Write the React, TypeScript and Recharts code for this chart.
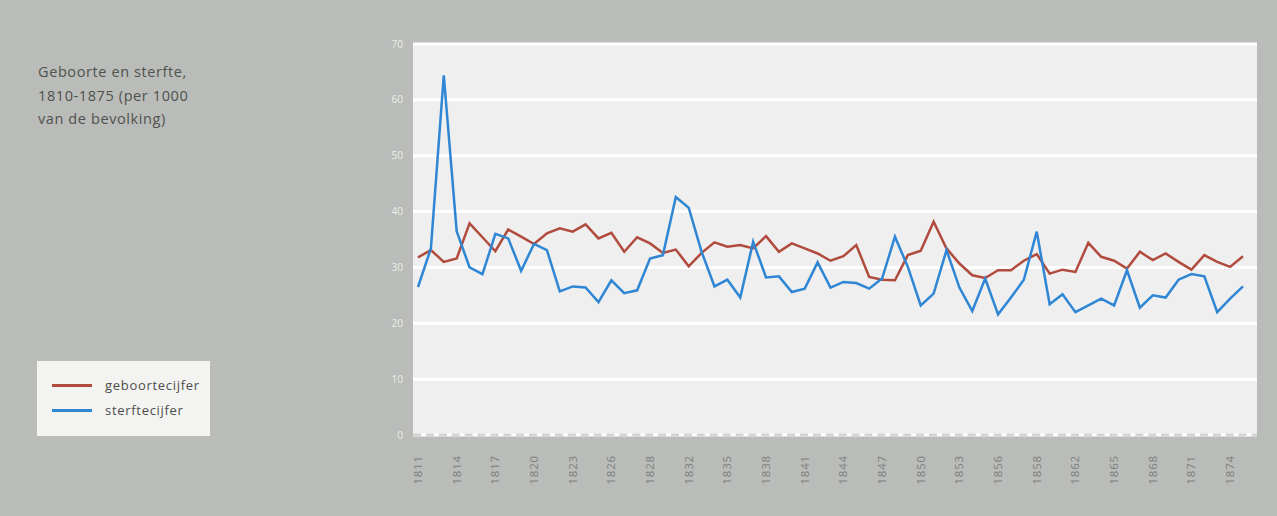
import React from 'react';
import { LineChart, Line, XAxis, YAxis, CartesianGrid } from 'recharts';

const years = [
  1811, 1812, 1813, 1814, 1815, 1816, 1817, 1818, 1819, 1820,
  1821, 1822, 1823, 1824, 1825, 1826, 1827, 1828, 1829, 1830,
  1831, 1832, 1833, 1834, 1835, 1836, 1837, 1838, 1839, 1840,
  1841, 1842, 1843, 1844, 1845, 1846, 1847, 1848, 1849, 1850,
  1851, 1852, 1853, 1854, 1855, 1856, 1857, 1858, 1859, 1860,
  1861, 1862, 1863, 1864, 1865, 1866, 1867, 1868, 1869, 1870,
  1871, 1872, 1873, 1874, 1875,
];

const geboortecijfer = [
  31.8, 33.1, 31.0, 31.6, 37.9, 35.4, 32.9, 36.8, 35.5, 34.2,
  36.1, 37.0, 36.4, 37.7, 35.2, 36.2, 32.8, 35.4, 34.3, 32.6,
  33.2, 30.2, 32.6, 34.5, 33.7, 34.0, 33.4, 35.6, 32.8, 34.3,
  33.4, 32.5, 31.2, 32.0, 34.0, 28.3, 27.8, 27.7, 32.2, 33.0,
  38.2, 33.4, 30.7, 28.6, 28.1, 29.5, 29.5, 31.2, 32.4, 28.9,
  29.6, 29.2, 34.4, 31.9, 31.2, 29.8, 32.8, 31.3, 32.5, 31.0,
  29.6, 32.2, 31.0, 30.1, 32.0,
];

const sterftecijfer = [
  26.5, 33.4, 64.4, 36.5, 30.0, 28.8, 36.0, 35.2, 29.4, 34.2,
  33.1, 25.7, 26.6, 26.4, 23.8, 27.7, 25.4, 25.9, 31.6, 32.2,
  42.6, 40.7, 32.8, 26.6, 27.8, 24.6, 34.6, 28.2, 28.4, 25.6,
  26.2, 30.9, 26.4, 27.4, 27.2, 26.2, 28.0, 35.5, 30.1, 23.2,
  25.3, 33.1, 26.4, 22.2, 28.0, 21.6, 24.6, 27.8, 36.4, 23.4,
  25.2, 22.0, 23.2, 24.4, 23.2, 29.5, 22.8, 25.0, 24.6, 27.8,
  28.8, 28.4, 22.0, 24.4, 26.6,
];

const tickYears = [
  1811, 1814, 1817, 1820, 1823, 1826, 1829, 1832, 1835, 1838, 1841,
  1844, 1847, 1850, 1853, 1856, 1859, 1862, 1865, 1868, 1871, 1874,
];
const tickLabels = [
  '1811', '1814', '1817', '1820', '1823', '1826', '1828', '1832', '1835', '1838', '1841',
  '1844', '1847', '1850', '1853', '1856', '1858', '1862', '1865', '1868', '1871', '1874',
];
const yTicks = [0, 10, 20, 30, 40, 50, 60, 70];
const titleLines = ['Geboorte en sterfte,', '1810-1875 (per 1000', 'van de bevolking)'];
const seriesNames = ['geboortecijfer', 'sterftecijfer'];

const RED = '#b04b3d';
const BLUE = '#2e86d4';
const FONT = "'Open Sans', 'DejaVu Sans', sans-serif";

const data = years.map((y, i) => ({
  year: y,
  geboorte: geboortecijfer[i],
  sterfte: sterftecijfer[i],
}));

const YearTick = (props: any) => {
  const { x, y, payload } = props;
  const idx = tickYears.indexOf(payload.value);
  const label = idx >= 0 ? tickLabels[idx] : String(payload.value);
  const ty = y + 20;
  return (
    <text
      x={x}
      y={ty}
      transform={`rotate(-90 ${x} ${ty})`}
      textAnchor="end"
      dy="0.35em"
      fill="#7d807c"
      fontSize={11.5}
      letterSpacing={0.8}
      fontFamily={FONT}
    >
      {label}
    </text>
  );
};

export default function App() {
  return (
    <div
      style={{
        position: 'fixed',
        left: 0,
        top: 0,
        width: 1277,
        height: 516,
        background: '#b9bcb8',
        fontFamily: FONT,
        overflow: 'hidden',
      }}
    >
      <div
        style={{
          position: 'absolute',
          left: 38,
          top: 60,
          fontSize: 14.5,
          lineHeight: '23.5px',
          color: '#50524f',
          letterSpacing: 0.6,
        }}
      >
        {titleLines.map((t) => (
          <div key={t}>{t}</div>
        ))}
      </div>

      <div style={{ position: 'absolute', left: 0, top: 0 }}>
        <LineChart
          width={1277}
          height={516}
          data={data}
          margin={{ top: 44, right: 20, bottom: 0, left: 0 }}
        >
          <CartesianGrid
            vertical={false}
            fill="#efefef"
            stroke="#ffffff"
            strokeWidth={3}
          />
          <XAxis
            dataKey="year"
            type="category"
            ticks={tickYears}
            interval={0}
            height={81}
            padding={{ left: 5, right: 14 }}
            tickSize={0}
            tickMargin={0}
            tickLine={false}
            axisLine={{ stroke: '#d3d5d2', strokeWidth: 3, strokeDasharray: '8 4.9' }}
            tick={<YearTick />}
          />
          <YAxis
            type="number"
            domain={[0, 70]}
            ticks={yTicks}
            interval={0}
            width={413}
            tickSize={0}
            tickMargin={10}
            tickLine={false}
            axisLine={false}
            tick={{ fill: '#eceeeb', fontSize: 10, fontFamily: FONT }}
          />
          <Line
            type="linear"
            dataKey="geboorte"
            stroke={RED}
            strokeWidth={2.5}
            dot={false}
            isAnimationActive={false}
          />
          <Line
            type="linear"
            dataKey="sterfte"
            stroke={BLUE}
            strokeWidth={2.5}
            dot={false}
            isAnimationActive={false}
          />
        </LineChart>
      </div>

      <div
        style={{
          position: 'absolute',
          left: 37,
          top: 361,
          width: 173,
          height: 75,
          background: '#f3f3f2',
        }}
      >
        {seriesNames.map((name, i) => (
          <div
            key={name}
            style={{
              position: 'absolute',
              left: 15,
              top: 14 + i * 25,
              height: 20,
              display: 'flex',
              alignItems: 'center',
            }}
          >
            <div style={{ width: 40, height: 3, background: i === 0 ? RED : BLUE }} />
            <span
              style={{
                marginLeft: 13,
                fontSize: 13,
                color: '#4c4e4b',
                letterSpacing: 0.7,
              }}
            >
              {name}
            </span>
          </div>
        ))}
      </div>
    </div>
  );
}
